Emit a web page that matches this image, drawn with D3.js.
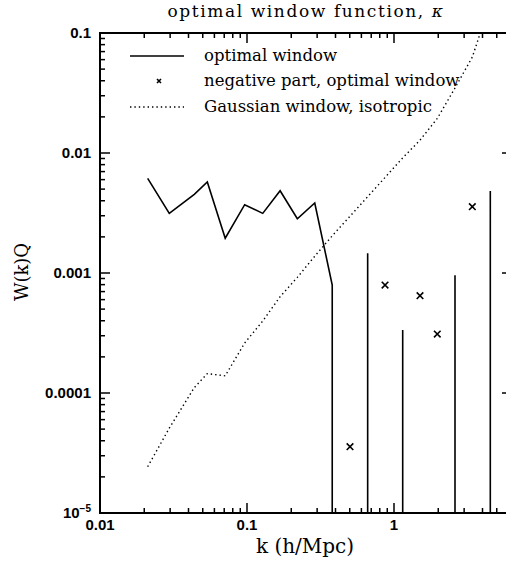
<!DOCTYPE html>
<html><head><meta charset="utf-8">
<script src="https://cdn.jsdelivr.net/npm/d3@7"></script>
<style>
html,body{margin:0;padding:0;background:#fff;overflow:hidden}
svg{display:block}
.serif{font-family:"DejaVu Serif",serif}
.sans{font-family:"Liberation Sans",Arial,sans-serif}
</style></head>
<body>
<svg id="c" width="506" height="569"></svg>
<script>
// ---- data ----
const kValues = [0.0211,0.0296,0.0438,0.0537,0.0711,0.0964,0.128,0.168,0.220,0.289,0.380,0.502,0.662,0.869,1.146,1.503,1.97,2.60,3.41,4.52,5.96];
const optimalWindow = [0.00615,0.00314,0.00453,0.00573,0.00195,0.00371,0.00314,0.00485,0.00283,0.00383,0.000794,-0.0000357,0.00146,-0.000794,0.000335,-0.000647,-0.00031,0.000957,-0.00357,0.00482,-0.000005];
const gaussianWindow = [0.0000243,0.0000509,0.000111,0.000145,0.000139,0.000261,0.000398,0.000635,0.00092,0.00138,0.00204,0.00297,0.00433,0.00625,0.0091,0.0128,0.0194,0.0348,0.063,0.178,0.6];
const xTickLabels = ["0.01","0.1","1"];
const yTickLabels = ["10^-5","0.0001","0.001","0.01","0.1"];
const legendLabels = ["optimal window","negative part, optimal window","Gaussian window, isotropic"];
const titleText = "optimal window function, ";

// ---- layout ----
const svg = d3.select("#c");
const L = 100, R = 512, T = 33, B = 513;
const x = d3.scaleLog().domain([0.01, Math.pow(10, (R-L)/147 - 2)]).range([L, R]);
const y = d3.scaleLog().domain([1e-5, 0.1]).range([B, T]);

svg.append("defs").append("clipPath").attr("id","clip")
  .append("rect").attr("x",L).attr("y",T).attr("width",R-L).attr("height",B-T);

// minor/major ticks
const xMajor = [0.01,0.1,1];
const xMinor = [];
[0.01,0.1,1].forEach(d=>{for(let m=2;m<=9;m++){const v=d*m; if(v<x.domain()[1]) xMinor.push(v);}});
const yMajor = [1e-5,1e-4,1e-3,1e-2,1e-1];
const yMinor = [];
[1e-5,1e-4,1e-3,1e-2].forEach(d=>{for(let m=2;m<=9;m++) yMinor.push(d*m);});

const g = svg.append("g");
const tk = g.append("g").attr("stroke","#000").attr("stroke-width",1.5);
function hTicks(vals,len){
  vals.forEach(v=>{
    const px = x(v);
    tk.append("line").attr("x1",px).attr("x2",px).attr("y1",B).attr("y2",B-len);
    tk.append("line").attr("x1",px).attr("x2",px).attr("y1",T).attr("y2",T+len);
  });
}
function vTicks(vals,len){
  vals.forEach(v=>{
    const py = y(v);
    tk.append("line").attr("x1",L).attr("x2",L+len).attr("y1",py).attr("y2",py);
    tk.append("line").attr("x1",R).attr("x2",R-len).attr("y1",py).attr("y2",py);
  });
}
hTicks(xMajor,10); hTicks(xMinor,5);
vTicks(yMajor,10); vTicks(yMinor,5);

// frame
g.append("rect").attr("x",L).attr("y",T).attr("width",R-L).attr("height",B-T)
  .attr("fill","none").attr("stroke","#000").attr("stroke-width",2);

// tick labels
xMajor.forEach((v,i)=>{
  g.append("text").attr("class","sans").attr("x",x(v)).attr("y",530)
   .attr("text-anchor","middle").attr("font-size",15).attr("font-weight","bold").text(xTickLabels[i]);
});
yMajor.forEach((v,i)=>{
  const t = g.append("text").attr("class","sans").attr("x",91).attr("y",y(v)+5)
   .attr("text-anchor","end").attr("font-size",15).attr("font-weight","bold");
  const lab = yTickLabels[i];
  if(lab.includes("^")){
    const [base,exp] = lab.split("^");
    t.append("tspan").text(base);
    t.append("tspan").attr("dy",-6).attr("font-size",10).text(exp.replace("-","\u2212"));
  } else t.text(lab);
});

// axis titles
g.append("text").attr("class","serif").attr("x",305).attr("y",553).attr("text-anchor","middle")
  .attr("font-size",20).text("k (h/Mpc)");
g.append("text").attr("class","serif").attr("transform","translate(28,272) rotate(-90)")
  .attr("text-anchor","middle").attr("font-size",18).text("W(k)Q");
const tt = g.append("text").attr("class","serif").attr("x",306).attr("y",17).attr("text-anchor","middle")
  .attr("font-size",17).attr("letter-spacing",1.6);
tt.append("tspan").text(titleText);
tt.append("tspan").attr("font-style","italic").text("\u03ba");

// data layer
const plot = svg.append("g").attr("clip-path","url(#clip)");

// optimal window: positive points joined; negative values drop to -infinity on the log axis
const pts = [];
kValues.forEach((k,i)=>{
  const v = optimalWindow[i];
  if(v>0) pts.push([x(k), y(v)]);
  else {
    if(i>0) pts.push([x(kValues[i-1]), B+50]);
    if(i<kValues.length-1) pts.push([x(kValues[i+1]), B+50]);
  }
});
plot.append("path").attr("d", d3.line()(pts)).attr("fill","none")
  .attr("stroke","#000").attr("stroke-width",1.6).attr("stroke-linejoin","miter");

// negative part markers
function cross(sel,cx,cy,s){
  sel.append("path").attr("d",`M${cx-s},${cy-s}L${cx+s},${cy+s}M${cx-s},${cy+s}L${cx+s},${cy-s}`)
    .attr("stroke","#000").attr("stroke-width",1.6).attr("fill","none");
}
kValues.forEach((k,i)=>{
  const v = optimalWindow[i];
  if(v<0) cross(plot, x(k), y(-v), 3.3);
});

// gaussian window
plot.append("path").attr("d", d3.line().x((d,i)=>x(kValues[i])).y(d=>y(d))(gaussianWindow))
  .attr("fill","none").attr("stroke","#000").attr("stroke-width",1.4).attr("stroke-dasharray","1.4,3");

// legend
const lg = svg.append("g");
const rows = [56, 81, 107];
lg.append("line").attr("x1",130).attr("x2",184).attr("y1",rows[0]).attr("y2",rows[0]).attr("stroke","#000").attr("stroke-width",1.6);
cross(lg,159,rows[1],2);
lg.append("line").attr("x1",130).attr("x2",184).attr("y1",rows[2]).attr("y2",rows[2]).attr("stroke","#000").attr("stroke-width",1.4).attr("stroke-dasharray","1.4,3");
legendLabels.forEach((s,i)=>{
  lg.append("text").attr("class","serif").attr("x",204).attr("y",rows[i]+5).attr("font-size",16.5).text(s);
});
</script>
</body></html>
